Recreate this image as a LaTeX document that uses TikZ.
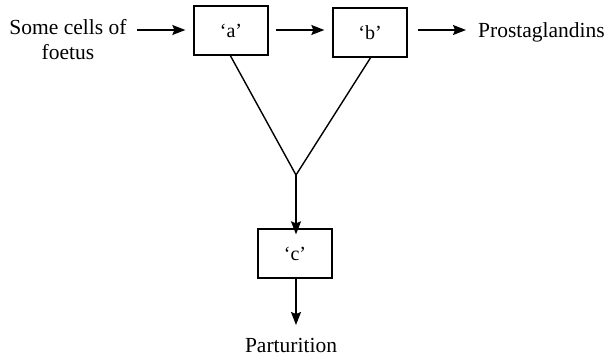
\documentclass[tikz,border=0pt]{standalone}
\usepackage{fontspec}
\setmainfont{Liberation Serif}
\usetikzlibrary{arrows.meta}
\begin{document}
\begin{tikzpicture}[x=1pt,y=-1pt,
  box/.style={draw, line width=1.3pt, minimum width=74pt, minimum height=49pt, inner sep=0pt, font=\fontsize{20}{22}\selectfont},
  lbl/.style={font=\fontsize{21.5}{25}\selectfont, inner sep=0pt},
  arr/.style={line width=1.4pt, -{Stealth[length=13pt,width=10pt,inset=2pt]}},
  ln/.style={line width=1.4pt}]
\useasboundingbox (0,0) rectangle (609,356);
\node[box] (a) at (231,30.5) {`a'};
\node[box] (b) at (370,32.5) {`b'};
\node[box] (c) at (295,253.5) {`c'};
\node[lbl, align=center] (src) at (68,40) {Some cells of\\foetus};
\node[lbl, anchor=west] (pg) at (478,32) {Prostaglandins};
\node[lbl] (par) at (291,345) {Parturition};
\coordinate (v) at (296,175);
\coordinate (aB) at (230,55);
\coordinate (bB) at (371,57);
\coordinate (s1) at (137,30);
\coordinate (s2) at (276,30);
\coordinate (s3) at (418,30);
\draw[arr] (s1) -- ([xshift=-8pt]a.west |- s1);
\draw[arr] (s2) -- ([xshift=-8pt]b.west |- s2);
\draw[arr] (s3) -- ([xshift=-12pt]pg.west |- s3);
\draw[ln] (aB) -- (v) -- (bB);
\draw[arr] (v) -- ([yshift=-6pt]c.north -| v);
\draw[arr] (c.south -| v) -- (296,325);
\end{tikzpicture}
\end{document}
